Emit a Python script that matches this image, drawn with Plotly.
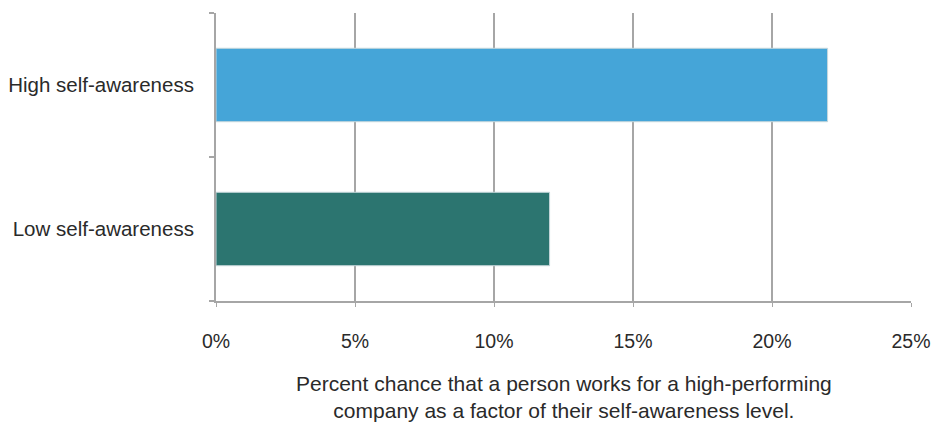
import plotly.graph_objects as go

categories = ["Low self-awareness", "High self-awareness"]
values = [0.12, 0.22]
bar_colors = ["#2C7570", "#45A5D8"]
x_tickvals = [0, 0.05, 0.10, 0.15, 0.20, 0.25]
x_ticktext = ["0%", "5%", "10%", "15%", "20%", "25%"]
caption = "Percent chance that a person works for a high-performing<br>company as a factor of their self-awareness level."

font_family = "Liberation Sans, Arial, sans-serif"
grid_color = "#A6A6A6"
text_color = "#2A2A2A"

fig = go.Figure()
fig.add_trace(go.Bar(
    y=categories,
    x=values,
    orientation="h",
    marker=dict(color=bar_colors, line=dict(color="#C8D8DC", width=1)),
    width=0.51,
    hoverinfo="skip",
))

fig.update_layout(
    width=935,
    height=422,
    margin=dict(l=216, r=24, t=13, b=121, autoexpand=False),
    paper_bgcolor="white",
    plot_bgcolor="white",
    showlegend=False,
    font=dict(family=font_family, size=20, color=text_color),
    xaxis=dict(
        range=[0, 0.25],
        tickvals=x_tickvals,
        ticktext=x_ticktext,
        tickfont=dict(size=19.5),
        showgrid=True,
        gridcolor=grid_color,
        gridwidth=2,
        showline=True,
        linecolor=grid_color,
        linewidth=2,
        ticks="outside",
        ticklen=4,
        tickcolor=grid_color,
        tickwidth=1,
        zeroline=False,
        automargin=False,
        ticklabelstandoff=18,
        fixedrange=True,
    ),
    yaxis=dict(
        categoryorder="array",
        categoryarray=categories,
        tickfont=dict(size=20.5),
        showgrid=False,
        showline=True,
        linecolor=grid_color,
        linewidth=2,
        ticks="outside",
        tickson="boundaries",
        ticklen=5,
        tickcolor=grid_color,
        tickwidth=2,
        zeroline=False,
        automargin=False,
        ticklabelstandoff=16,
        fixedrange=True,
    ),
    annotations=[dict(
        text=caption,
        xref="paper", yref="paper",
        x=0.5, y=0,
        yshift=-69,
        xanchor="center", yanchor="top",
        showarrow=False,
        align="center",
        font=dict(family=font_family, size=21, color=text_color),
    )],
)

fig.write_html("out.html")
